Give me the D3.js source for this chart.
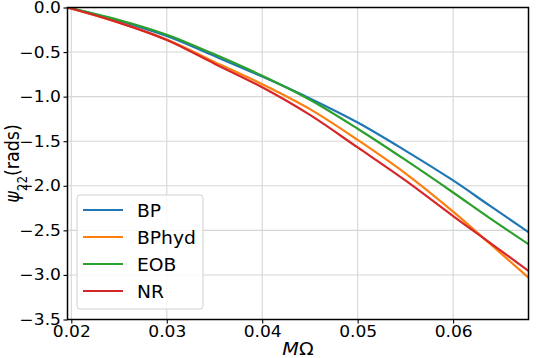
<!DOCTYPE html>
<html>
<head>
<meta charset="utf-8">
<script src="https://cdn.jsdelivr.net/npm/d3@7"></script>
<style>
  body { margin: 0; background: #fff; }
  text { font-family: "DejaVu Sans", sans-serif; }
</style>
</head>
<body>
<div id="chart"></div>
<script>
// M*Omega sample points
var omega = [0.0196, 0.025, 0.03, 0.035, 0.04, 0.045, 0.05, 0.055, 0.06, 0.0638, 0.0679];

// phase psi_22 (rads) per model
var bp    = [0, -0.15, -0.32, -0.545, -0.775, -1.02, -1.29, -1.605, -1.94, -2.22, -2.52];
var bphyd = [0, -0.17, -0.36, -0.61, -0.86, -1.14, -1.485, -1.86, -2.29, -2.645, -3.03];
var eob   = [0, -0.14, -0.305, -0.525, -0.765, -1.035, -1.36, -1.71, -2.075, -2.36, -2.655];
var nr    = [0, -0.17, -0.365, -0.63, -0.895, -1.205, -1.57, -1.94, -2.34, -2.635, -2.955];

var names = ["BP", "BPhyd", "EOB", "NR"];
var colors = ["#1f77b4", "#ff7f0e", "#2ca02c", "#d62728"];
var xTicks = [0.02, 0.03, 0.04, 0.05, 0.06];
var yTicks = [0, -0.5, -1.0, -1.5, -2.0, -2.5, -3.0, -3.5];

var width = 538, height = 358;
var margin = {left: 67.5, right: 9.5, top: 7.5, bottom: 38.5};
var sx = 1.1; // text in the picture is a bit wider than tall

var svg = d3.select("#chart").append("svg")
    .attr("width", width)
    .attr("height", height)

var x = d3.scaleLinear().domain([0.0196, 0.0679]).range([margin.left, width - margin.right]);
var y = d3.scaleLinear().domain([-3.5, 0]).range([height - margin.bottom, margin.top]);

// grid
svg.append("g").selectAll("line").data(xTicks).enter().append("line")
    .attr("x1", function(d) { return x(d) }).attr("x2", function(d) { return x(d) })
    .attr("y1", margin.top).attr("y2", height - margin.bottom)
    .attr("stroke", "#d6d6d6").attr("stroke-width", 1.1)
svg.append("g").selectAll("line").data(yTicks).enter().append("line")
    .attr("y1", function(d) { return y(d) }).attr("y2", function(d) { return y(d) })
    .attr("x1", margin.left).attr("x2", width - margin.right)
    .attr("stroke", "#d6d6d6").attr("stroke-width", 1.1)

// lines
var series = [bp, bphyd, eob, nr];
var line = d3.line()
    .x(function(d, i) { return x(omega[i]) })
    .y(function(d) { return y(d) })
    .curve(d3.curveCatmullRom.alpha(0.5));

svg.append("defs").append("clipPath").attr("id", "clip")
  .append("rect").attr("x", margin.left).attr("y", margin.top)
  .attr("width", width - margin.left - margin.right).attr("height", height - margin.top - margin.bottom)

series.forEach(function(s, k) {
  svg.append("path")
    .datum(s)
    .attr("d", line)
    .attr("clip-path", "url(#clip)")
    .attr("fill", "none")
    .attr("stroke", colors[k])
    .attr("stroke-width", 2.2)
})

// axes
var fmtY = function(d) { return d3.format(".1f")(d).replace("-", "\u2212") }
var xAxis = d3.axisBottom(x).tickValues(xTicks).tickFormat(d3.format(".2f")).tickSize(4).tickPadding(2);
var yAxis = d3.axisLeft(y).tickValues(yTicks).tickFormat(fmtY).tickSize(4).tickPadding(2);

var gx = svg.append("g").attr("transform", "translate(0," + (height - margin.bottom) + ")").call(xAxis)
var gy = svg.append("g").attr("transform", "translate(" + margin.left + ",0)").call(yAxis)
;[gx, gy].forEach(function(g) {
  g.select(".domain").remove()
  g.selectAll(".tick line").attr("stroke", "#000").attr("stroke-width", 1.1)
  g.selectAll(".tick text").attr("fill", "#000")
    .attr("transform", "scale(" + sx + ",1)")
    .style("font-size", "15.5px").style("font-family", "DejaVu Sans")
})

// frame
svg.append("rect")
    .attr("x", margin.left).attr("y", margin.top)
    .attr("width", width - margin.left - margin.right)
    .attr("height", height - margin.top - margin.bottom)
    .attr("fill", "none").attr("stroke", "#000").attr("stroke-width", 1.5)

// axis labels
var xl = svg.append("text")
    .attr("transform", "translate(" + ((margin.left + width - margin.right) / 2) + ",355) scale(" + sx + ",1)")
    .attr("text-anchor", "middle")
    .style("font-size", "17.5px")
xl.append("tspan").style("font-style", "italic").text("M")
xl.append("tspan").text("\u03A9")

var yl = svg.append("text")
    .attr("transform", "translate(19," + ((margin.top + height - margin.bottom) / 2) + ") rotate(-90) scale(1," + sx + ")")
    .attr("text-anchor", "middle")
    .style("font-size", "17.5px")
yl.append("tspan").style("font-style", "italic").text("\u03C8")
yl.append("tspan").attr("baseline-shift", "sub").style("font-size", "12px").text("22")
yl.append("tspan").text("(rads)")

// legend
var lg = svg.append("g").attr("transform", "translate(77,195)")
lg.append("rect")
    .attr("width", 126).attr("height", 114).attr("rx", 3)
    .attr("fill", "#fff").attr("fill-opacity", 0.85)
    .attr("stroke", "#d0d0d0").attr("stroke-width", 1)
names.forEach(function(n, k) {
  var yy = 15 + k * 27;
  lg.append("line").attr("x1", 6).attr("x2", 46).attr("y1", yy).attr("y2", yy)
    .attr("stroke", colors[k]).attr("stroke-width", 2.2)
  lg.append("text").attr("transform", "translate(60," + (yy + 6.5) + ") scale(" + sx + ",1)")
    .style("font-size", "17px").text(n)
})
</script>
</body>
</html>
